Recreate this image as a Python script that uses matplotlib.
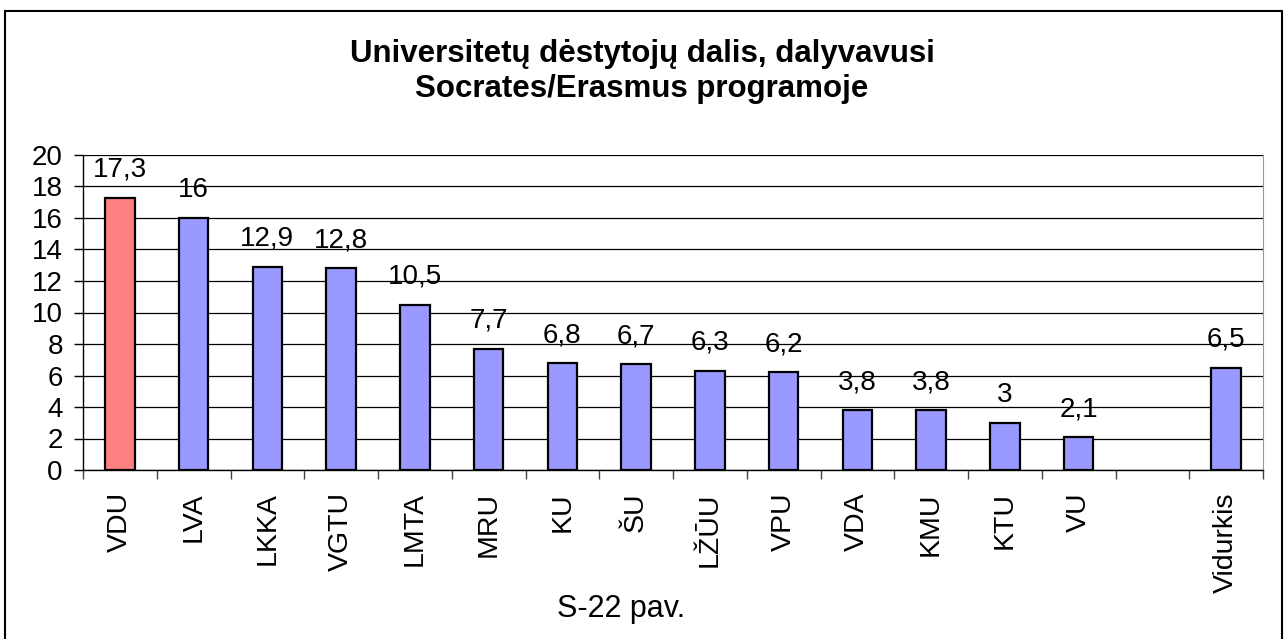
import matplotlib
matplotlib.use("Agg")
import matplotlib.pyplot as plt
from matplotlib.patches import Rectangle
from matplotlib.ticker import MultipleLocator, FixedLocator

plt.rcParams['font.family'] = ['Liberation Sans', 'DejaVu Sans']

categories = ['VDU', 'LVA', 'LKKA', 'VGTU', 'LMTA', 'MRU', 'KU', 'ŠU',
              'LŽŪU', 'VPU', 'VDA', 'KMU', 'KTU', 'VU', '', 'Vidurkis']
values = [17.3, 16, 12.9, 12.8, 10.5, 7.7, 6.8, 6.7, 6.3, 6.2,
          3.8, 3.8, 3, 2.1, None, 6.5]
labels = ['17,3', '16', '12,9', '12,8', '10,5', '7,7', '6,8', '6,7',
          '6,3', '6,2', '3,8', '3,8', '3', '2,1', '', '6,5']
highlight = 'VDU'

W, H = 1284, 639
fig = plt.figure(figsize=(W / 100, H / 100), dpi=100)
# outer chart frame
fig.patches.append(Rectangle((5 / W, -0.01), 1277 / W, 1 - 11 / H + 0.01,
                             transform=fig.transFigure, fill=False,
                             edgecolor='black', linewidth=1.5))

ax = fig.add_axes([83 / W, (H - 470) / H, 1180 / W, 315 / H])
ax.set_axisbelow(True)
ax.yaxis.grid(True, color='black', linewidth=0.9)

for i, (c, v, lab) in enumerate(zip(categories, values, labels)):
    if v is None:
        continue
    col = '#FF8080' if c == highlight else '#9999FF'
    ax.bar(i, v, width=0.4, color=col, edgecolor='black', linewidth=1.6, zorder=3)
    ax.annotate(lab, (i, v), xytext=(0, 15), textcoords='offset points',
                ha='center', va='baseline', fontsize=20)

ax.set_xlim(-0.5, len(categories) - 0.5)
ax.set_ylim(0, 20)
ax.yaxis.set_major_locator(MultipleLocator(2))
ax.set_xticks(range(len(categories)))
ax.set_xticklabels(categories, rotation=90, fontsize=20.5)
ax.tick_params(axis='x', which='major', length=0, pad=16)
ax.xaxis.set_minor_locator(FixedLocator([i - 0.5 for i in range(len(categories) + 1)]))
ax.tick_params(axis='x', which='minor', length=6.5, width=1, color='#444444')
ax.tick_params(axis='y', labelsize=20, length=6.5, width=1, pad=8)

ax.spines['top'].set_visible(False)
ax.spines['right'].set_color('#999999')
ax.spines['left'].set_linewidth(1)
ax.spines['bottom'].set_linewidth(1)

fig.text(642 / W, 1 - 97 / H, 'Universitetų dėstytojų dalis, dalyvavusi\nSocrates/Erasmus programoje',
         ha='center', va='baseline', fontsize=22.5, fontweight='bold', linespacing=1.2)
fig.text(621 / W, 1 - 617 / H, 'S-22 pav.', ha='center', va='baseline', fontsize=22)

fig.savefig('out.png', dpi=100)
